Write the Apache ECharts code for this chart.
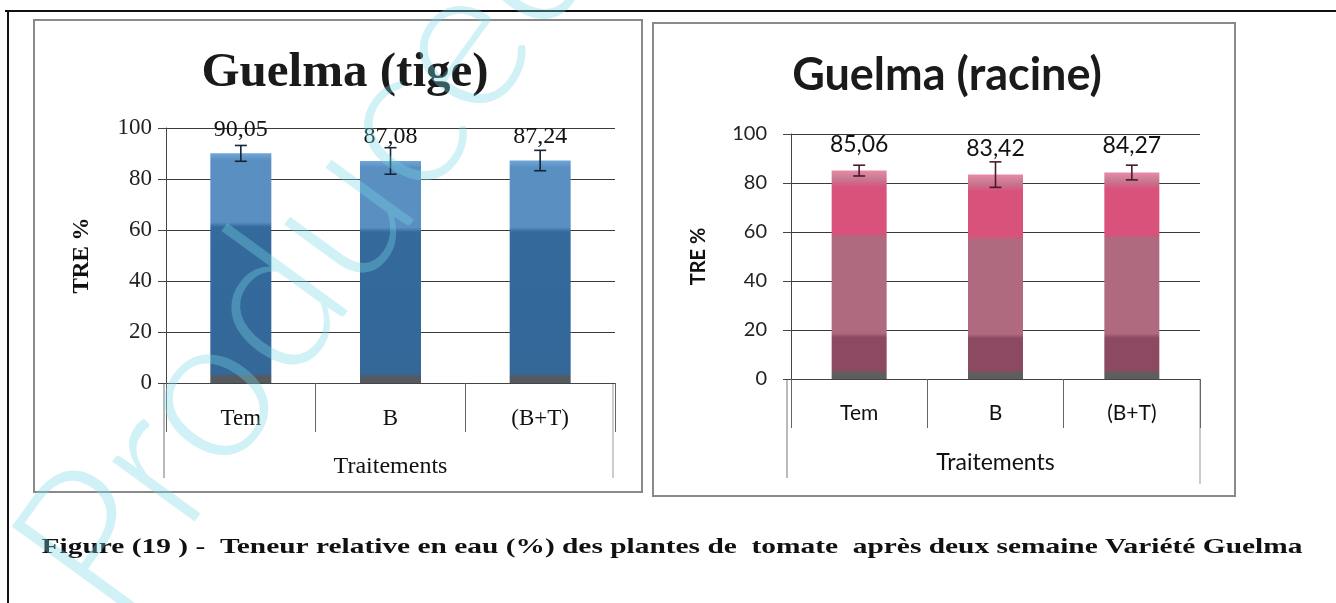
<!DOCTYPE html>
<html>
<head>
<meta charset="utf-8">
<script src="https://cdn.jsdelivr.net/npm/echarts@6/dist/echarts.min.js"></script>
<style>
html,body{margin:0;padding:0;background:#fff;}
#c{width:1336px;height:603px;}
</style>
</head>
<body>
<div id="c"></div>
<script>
// ---- data ----
const categories = ['Tem', 'B', '(B+T)'];
const tigeValues = [90.05, 87.08, 87.24];
const tigeErrors = [3.1, 5.2, 4.0];
const racineValues = [85.06, 83.42, 84.27];
const racineErrors = [2.2, 5.2, 3.0];
const titleTige = 'Guelma (tige)';
const titleRacine = 'Guelma (racine)';
const yName = 'TRE %';
const xName = 'Traitements';
const caption = 'Figure (19 ) -  Teneur relative en eau (%) des plantes de  tomate  après deux semaine Variété Guelma';
const watermark = 'Produced by';

const serif = '"Liberation Serif", "DejaVu Serif", serif';
const sans = 'Lato, "Open Sans", "Liberation Sans", sans-serif';

function fmt(v) { return v.toFixed(2).replace('.', ','); }

function errorSeries(xi, yi, vals, errs, color) {
  return {
    type: 'custom', xAxisIndex: xi, yAxisIndex: yi, z: 5,
    data: vals.map((v, i) => [i, v, errs[i]]),
    renderItem: function (params, api) {
      const x = api.value(0), v = api.value(1), e = api.value(2);
      const hi = api.coord([x, v + e]);
      const lo = api.coord([x, v - e]);
      const w = 6;
      const st = { stroke: color, lineWidth: 1.6 };
      return {
        type: 'group', children: [
          { type: 'line', shape: { x1: hi[0], y1: hi[1], x2: lo[0], y2: lo[1] }, style: st },
          { type: 'line', shape: { x1: hi[0] - w, y1: hi[1], x2: hi[0] + w, y2: hi[1] }, style: st },
          { type: 'line', shape: { x1: lo[0] - w, y1: lo[1], x2: lo[0] + w, y2: lo[1] }, style: st }
        ]
      };
    }
  };
}

const blueGrad = new echarts.graphic.LinearGradient(0, 0, 0, 1, [
  { offset: 0, color: '#6fa6d8' },
  { offset: 0.03, color: '#5a8fc1' },
  { offset: 0.3, color: '#5a8fc1' },
  { offset: 0.32, color: '#346a9c' },
  { offset: 0.96, color: '#336899' },
  { offset: 0.97, color: '#555a60' },
  { offset: 1, color: '#555a60' }
]);
const pinkGrad = new echarts.graphic.LinearGradient(0, 0, 0, 1, [
  { offset: 0, color: '#e98aa6' },
  { offset: 0.04, color: '#c77a92' },
  { offset: 0.08, color: '#d8527c' },
  { offset: 0.3, color: '#d8527c' },
  { offset: 0.32, color: '#b06a80' },
  { offset: 0.78, color: '#b06a80' },
  { offset: 0.8, color: '#8c4a62' },
  { offset: 0.96, color: '#8c4a62' },
  { offset: 0.97, color: '#5e5e5e' },
  { offset: 1, color: '#5e5e5e' }
]);

function yAxisDef(gi, font, size, nameSize, nameGap, margin) {
  return {
    type: 'value', gridIndex: gi, min: 0, max: 100, interval: 20,
    name: yName, nameLocation: 'middle', nameRotate: 90, nameGap: nameGap,
    nameTextStyle: { fontFamily: font, fontWeight: 'bold', fontSize: nameSize, color: '#111' },
    axisLine: { show: true, lineStyle: { color: '#444', width: 1 } },
    axisTick: { show: true, inside: false, length: 8, lineStyle: { color: '#444' } },
    axisLabel: { fontFamily: font, fontSize: size, color: '#222', margin: margin },
    splitLine: { show: true, lineStyle: { color: '#3a3a3a', width: 1 } }
  };
}
function xAxisDef(gi, font, size, nameSize) {
  return {
    type: 'category', gridIndex: gi, data: categories,
    name: xName, nameLocation: 'middle', nameGap: 72,
    nameTextStyle: { fontFamily: font, fontSize: nameSize, color: '#111' },
    axisLine: { show: true, lineStyle: { color: '#444', width: 1.2 } },
    axisTick: { show: true, alignWithLabel: false, length: 49, lineStyle: { color: '#666' } },
    axisLabel: { fontFamily: font, fontSize: size, color: '#111', margin: 24 },
    splitLine: { show: false }
  };
}

const chart = echarts.init(document.getElementById('c'), null, { renderer: 'canvas' });
chart.setOption({
  animation: false,
  backgroundColor: '#ffffff',
  title: [
    { text: titleTige, left: 340, top: 44, textAlign: 'center',
      textStyle: { fontFamily: serif, fontWeight: 'bold', fontSize: 49, color: '#1a1a1a' } },
    { text: titleRacine, left: 942, top: 48, textAlign: 'center',
      textStyle: { fontFamily: sans, fontWeight: 'bold', fontSize: 45, color: '#1a1a1a' } }
  ],
  grid: [
    { left: 166, right: 1336 - 615, top: 128, bottom: 603 - 383, containLabel: false },
    { left: 791, right: 1336 - 1200, top: 134, bottom: 603 - 379, containLabel: false }
  ],
  xAxis: [xAxisDef(0, serif, 23, 24), xAxisDef(1, sans, 21, 23)],
  yAxis: [yAxisDef(0, serif, 23, 23, 72, 14), yAxisDef(1, sans, 20, 20, 82, 24)],
  series: [
    { type: 'bar', xAxisIndex: 0, yAxisIndex: 0, data: tigeValues, barWidth: 61,
      itemStyle: { color: blueGrad },
      label: { show: true, position: 'top', distance: 12, formatter: p => fmt(p.value),
        fontFamily: serif, fontSize: 24, color: '#111' } },
    errorSeries(0, 0, tigeValues, tigeErrors, '#15253a'),
    { type: 'bar', xAxisIndex: 1, yAxisIndex: 1, data: racineValues, barWidth: 55,
      itemStyle: { color: pinkGrad },
      label: { show: true, position: 'top', distance: 15, formatter: p => fmt(p.value),
        fontFamily: sans, fontSize: 23, color: '#111' } },
    errorSeries(1, 1, racineValues, racineErrors, '#4a1a2a')
  ],
  graphic: [
    // outer frame
    { type: 'line', shape: { x1: 5, y1: 11, x2: 1336, y2: 11 }, style: { stroke: '#111', lineWidth: 2 } },
    { type: 'line', shape: { x1: 8, y1: 11, x2: 8, y2: 603 }, style: { stroke: '#111', lineWidth: 2 } },
    // panel borders
    { type: 'rect', shape: { x: 34, y: 20, width: 608, height: 472 }, style: { fill: 'none', stroke: '#8a8a8a', lineWidth: 2 } },
    { type: 'rect', shape: { x: 653, y: 23, width: 582, height: 473 }, style: { fill: 'none', stroke: '#8a8a8a', lineWidth: 2 } },
    // category boxes below axes
    { type: 'line', shape: { x1: 164, y1: 383, x2: 164, y2: 478 }, style: { stroke: '#777', lineWidth: 1 } },
    { type: 'line', shape: { x1: 613, y1: 383, x2: 613, y2: 478 }, style: { stroke: '#999', lineWidth: 1 } },
    { type: 'line', shape: { x1: 787, y1: 379, x2: 787, y2: 478 }, style: { stroke: '#777', lineWidth: 1 } },
    { type: 'line', shape: { x1: 1200, y1: 379, x2: 1200, y2: 484 }, style: { stroke: '#999', lineWidth: 1 } },
    // caption
    { type: 'text', x: 672, y: 548, scaleX: 1.4, originX: 0, originY: 0,
      style: { text: caption, font: 'bold 21px ' + serif, fill: '#111', textAlign: 'center', textVerticalAlign: 'middle' } },
    // watermark
    { type: 'text', x: -20, y: 530, rotation: 54 * Math.PI / 180, z: 100,
      style: { text: watermark, font: '300 205px Lato, "DejaVu Sans", sans-serif',
        fill: 'rgba(120,215,230,0.35)', textBaseline: 'alphabetic' } }
  ]
});
</script>
</body>
</html>
